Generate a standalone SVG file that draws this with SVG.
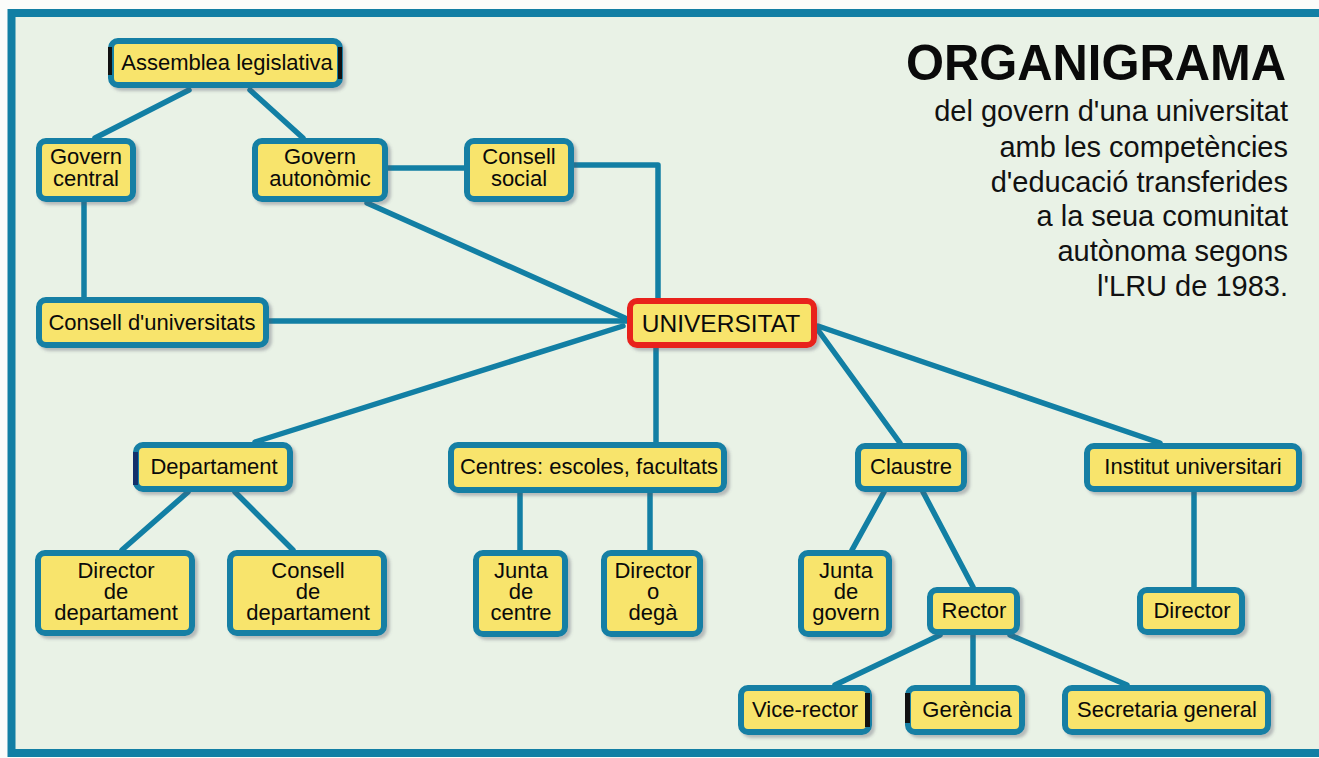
<svg xmlns="http://www.w3.org/2000/svg" width="1319" height="758" viewBox="0 0 1319 758">
<defs>
<filter id="sh" x="-10%" y="-10%" width="130%" height="140%">
<feDropShadow dx="3" dy="3" stdDeviation="1.5" flood-color="#556" flood-opacity="0.35"/>
</filter>
<style>
.bg{fill:#e9f2e6}
.frame{fill:none;stroke:#127fa4;stroke-width:8}
.box{fill:#f8e46c;stroke:#127fa4;stroke-width:6;filter:url(#sh)}
.red{stroke:#e8201c}
.lnk{fill:none;stroke:#127fa4;stroke-width:5.5;stroke-linecap:round;stroke-linejoin:round}
.t{font-family:"Liberation Sans",Arial,sans-serif;font-size:22px;fill:#0a0a0a;text-anchor:middle}
.big{font-size:24.5px}
.ttl{font-family:"Liberation Sans",Arial,sans-serif;font-weight:bold;font-size:50px;fill:#0a0a0a;text-anchor:end}
.sub{font-family:"Liberation Sans",Arial,sans-serif;font-size:29px;fill:#111;text-anchor:end}
.mk{fill:#111}
</style>
</defs>
<rect x="0" y="0" width="1319" height="758" fill="#fbfcfa"/>
<rect class="bg" x="11" y="13" width="1320" height="740"/>
<rect class="frame" x="11.5" y="13" width="1330" height="740"/>

<g id="title">
<text class="ttl" x="1286" y="80" textLength="380" lengthAdjust="spacingAndGlyphs">ORGANIGRAMA</text>
<text class="sub" x="1288" y="121">del govern d'una universitat</text>
<text class="sub" x="1288" y="157">amb les competències</text>
<text class="sub" x="1288" y="192">d'educació transferides</text>
<text class="sub" x="1288" y="226">a la seua comunitat</text>
<text class="sub" x="1288" y="261">autònoma segons</text>
<text class="sub" x="1288" y="296">l'LRU de 1983.</text>
</g>

<g id="connectors">
<line class="lnk" x1="189" y1="90" x2="95" y2="138"/>
<line class="lnk" x1="250" y1="90" x2="303" y2="138"/>
<line class="lnk" x1="84" y1="202" x2="84" y2="297"/>
<line class="lnk" x1="388" y1="168" x2="464" y2="168"/>
<polyline class="lnk" points="574,165 658,165 658,298"/>
<line class="lnk" x1="367" y1="203" x2="625" y2="318"/>
<line class="lnk" x1="269" y1="321" x2="627" y2="321"/>
<line class="lnk" x1="623" y1="326" x2="255" y2="442"/>
<line class="lnk" x1="656" y1="348" x2="656" y2="442"/>
<line class="lnk" x1="818" y1="330" x2="900" y2="443"/>
<line class="lnk" x1="818" y1="326" x2="1160" y2="443"/>
<line class="lnk" x1="188" y1="492" x2="122" y2="550"/>
<line class="lnk" x1="235" y1="492" x2="293" y2="550"/>
<line class="lnk" x1="520" y1="493" x2="520" y2="550"/>
<line class="lnk" x1="650" y1="493" x2="650" y2="550"/>
<line class="lnk" x1="884" y1="492" x2="852" y2="550"/>
<line class="lnk" x1="923" y1="492" x2="973" y2="587"/>
<line class="lnk" x1="1194" y1="492" x2="1194" y2="587"/>
<line class="lnk" x1="940" y1="635" x2="835" y2="685"/>
<line class="lnk" x1="973" y1="635" x2="973" y2="685"/>
<line class="lnk" x1="1010" y1="635" x2="1127" y2="685"/>
</g>

<g id="assemblea">
<rect class="box" x="111" y="41" width="229" height="44" rx="7"/>
<rect class="mk" x="108" y="47" width="4" height="28"/>
<rect class="mk" x="338" y="47" width="4" height="32"/>
<text class="t" x="227" y="70">Assemblea legislativa</text>
</g>
<g id="govern-central">
<rect class="box" x="39" y="141" width="94" height="58" rx="7"/>
<text class="t" x="86" y="164">Govern</text>
<text class="t" x="86" y="186">central</text>
</g>
<g id="govern-autonomic">
<rect class="box" x="255" y="141" width="130" height="58" rx="7"/>
<text class="t" x="320" y="164">Govern</text>
<text class="t" x="320" y="186">autonòmic</text>
</g>
<g id="consell-social">
<rect class="box" x="467" y="141" width="104" height="58" rx="7"/>
<text class="t" x="519" y="164">Consell</text>
<text class="t" x="519" y="186">social</text>
</g>
<g id="consell-universitats">
<rect class="box" x="39" y="300" width="227" height="45" rx="7"/>
<text class="t" x="152" y="330">Consell d'universitats</text>
</g>
<g id="universitat">
<rect class="box red" x="630" y="301" width="184" height="44" rx="7"/>
<text class="t big" x="721" y="332">UNIVERSITAT</text>
</g>
<g id="departament">
<rect class="box" x="136" y="445" width="154" height="44" rx="7"/>
<rect x="133" y="452" width="5" height="33" fill="#13306a"/>
<text class="t" x="214" y="474">Departament</text>
</g>
<g id="centres">
<rect class="box" x="451" y="445" width="273" height="45" rx="7"/>
<text class="t" x="589" y="474">Centres: escoles, facultats</text>
</g>
<g id="claustre">
<rect class="box" x="858" y="446" width="106" height="43" rx="7"/>
<text class="t" x="911" y="474">Claustre</text>
</g>
<g id="institut">
<rect class="box" x="1087" y="446" width="212" height="43" rx="7"/>
<text class="t" x="1193" y="474">Institut universitari</text>
</g>
<g id="director-departament">
<rect class="box" x="38" y="553" width="154" height="80" rx="7"/>
<text class="t" x="116" y="578">Director</text>
<text class="t" x="116" y="599">de</text>
<text class="t" x="116" y="620">departament</text>
</g>
<g id="consell-departament">
<rect class="box" x="230" y="553" width="154" height="80" rx="7"/>
<text class="t" x="308" y="578">Consell</text>
<text class="t" x="308" y="599">de</text>
<text class="t" x="308" y="620">departament</text>
</g>
<g id="junta-centre">
<rect class="box" x="476" y="553" width="89" height="81" rx="7"/>
<text class="t" x="521" y="578">Junta</text>
<text class="t" x="521" y="599">de</text>
<text class="t" x="521" y="620">centre</text>
</g>
<g id="director-dega">
<rect class="box" x="604" y="553" width="96" height="81" rx="7"/>
<text class="t" x="653" y="578">Director</text>
<text class="t" x="653" y="599">o</text>
<text class="t" x="653" y="620">degà</text>
</g>
<g id="junta-govern">
<rect class="box" x="801" y="553" width="88" height="81" rx="7"/>
<text class="t" x="846" y="578">Junta</text>
<text class="t" x="846" y="599">de</text>
<text class="t" x="846" y="620">govern</text>
</g>
<g id="rector">
<rect class="box" x="930" y="590" width="87" height="42" rx="7"/>
<text class="t" x="974" y="618">Rector</text>
</g>
<g id="director-institut">
<rect class="box" x="1140" y="590" width="102" height="42" rx="7"/>
<text class="t" x="1192" y="618">Director</text>
</g>
<g id="vice-rector">
<rect class="box" x="741" y="688" width="128" height="44" rx="7"/>
<rect class="mk" x="865" y="693" width="5" height="34"/>
<text class="t" x="805" y="717">Vice-rector</text>
</g>
<g id="gerencia">
<rect class="box" x="908" y="688" width="114" height="44" rx="7"/>
<rect class="mk" x="905" y="693" width="5" height="30"/>
<text class="t" x="967" y="717">Gerència</text>
</g>
<g id="secretaria">
<rect class="box" x="1065" y="688" width="203" height="44" rx="7"/>
<text class="t" x="1167" y="717">Secretaria general</text>
</g>
</svg>
